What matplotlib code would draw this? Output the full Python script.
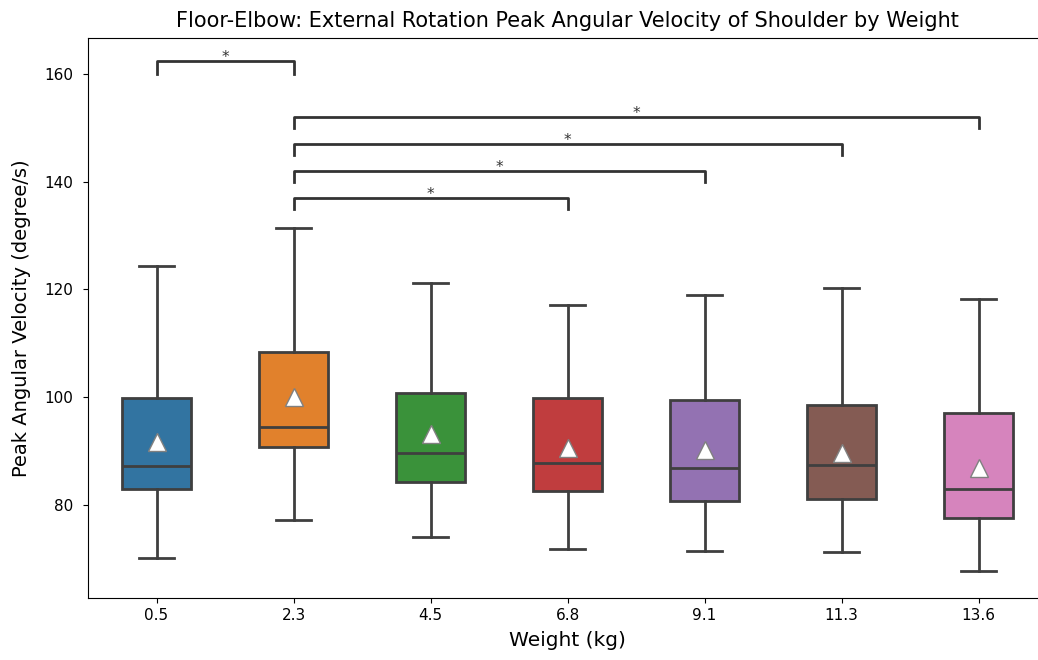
import matplotlib
matplotlib.use("Agg")
import matplotlib.pyplot as plt
import seaborn as sns

weights = ["0.5", "2.3", "4.5", "6.8", "9.1", "11.3", "13.6"]
whislo = [70.2, 77.2, 74.1, 71.8, 71.5, 71.2, 67.7]
q1 = [83.0, 90.8, 84.3, 82.6, 80.7, 81.0, 77.6]
med = [87.2, 94.5, 89.7, 87.8, 86.9, 87.4, 83.0]
q3 = [99.9, 108.4, 100.8, 99.9, 99.5, 98.5, 97.0]
whishi = [124.4, 131.4, 121.2, 117.1, 119.0, 120.3, 118.2]
means = [91.7, 100.0, 93.2, 90.6, 90.2, 89.7, 86.9]

# significant pairs (index a, index b, bar base y, bar height)
pairs = [(0, 1, 160, 2.5), (1, 3, 135, 2), (1, 4, 140, 2), (1, 5, 145, 2), (1, 6, 150, 2)]

stats = []
for i, w in enumerate(weights):
    stats.append(dict(label=w, whislo=whislo[i], q1=q1[i], med=med[i], q3=q3[i],
                      whishi=whishi[i], mean=means[i], fliers=[]))

colors = [sns.desaturate(c, 0.75) for c in sns.color_palette("tab10", 7)]
gray = "#3f3f3f"

fig = plt.figure(figsize=(10.38, 6.6), dpi=100)
ax = fig.add_axes([0.0848, 0.0939, 0.9239, 0.8485])

bp = ax.bxp(stats, positions=range(len(weights)), widths=0.5, patch_artist=True,
            showmeans=True, showfliers=False,
            boxprops=dict(edgecolor=gray, linewidth=2),
            whiskerprops=dict(color=gray, linewidth=2),
            capprops=dict(color=gray, linewidth=2),
            medianprops=dict(color=gray, linewidth=2),
            meanprops=dict(marker="^", markerfacecolor="white", markeredgecolor="gray",
                           markersize=13))
for patch, c in zip(bp["boxes"], colors):
    patch.set_facecolor(c)

for a, b, y, h in pairs:
    ax.plot([a, a, b, b], [y, y + h, y + h, y], lw=2, color="#333333")
    ax.text((a + b) / 2, y + h - 0.8, "*", ha="center", va="bottom", color="#333333", fontsize=11)

ax.spines["right"].set_visible(False)
ax.set_xlim(-0.5, 6.5)
ax.set_ylim(62.7, 166.7)
ax.set_yticks([80, 100, 120, 140, 160])
ax.tick_params(labelsize=11)
ax.tick_params(axis="y", pad=7)
ax.set_xlabel("Weight (kg)", fontsize=14.5, labelpad=6)
ax.set_ylabel("Peak Angular Velocity (degree/s)", fontsize=14, labelpad=10)
ax.set_title("Floor-Elbow: External Rotation Peak Angular Velocity of Shoulder by Weight",
             fontsize=15, pad=8)

fig.savefig("out.png", dpi=100)
